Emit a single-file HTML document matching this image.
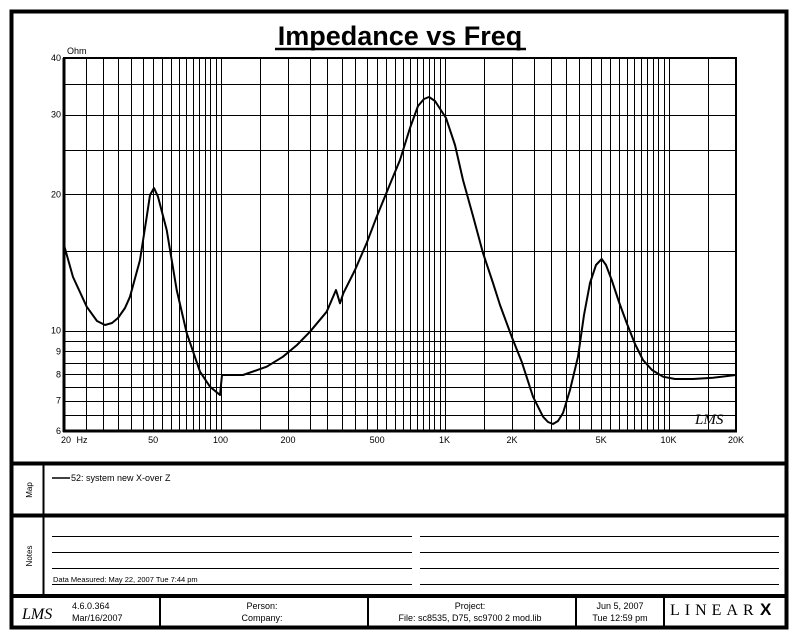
<!DOCTYPE html>
<html><head><meta charset="utf-8"><style>
html,body{margin:0;padding:0;background:#fff;}
svg{display:block;font-family:"Liberation Sans",sans-serif;}
</style></head><body>
<svg id="s" width="800" height="640" viewBox="0 0 800 640" xmlns="http://www.w3.org/2000/svg">
<rect x="11.5" y="11.5" width="775" height="616" fill="none" stroke="#000" stroke-width="4"/>
<text x="400" y="45" font-size="27" font-weight="bold" text-anchor="middle">Impedance vs Freq</text>
<line x1="275" y1="49" x2="526" y2="49" stroke="#000" stroke-width="2.5"/>
<g id="grid" stroke="#000" stroke-width="1" shape-rendering="crispEdges"></g>
<rect x="64" y="58" width="672" height="373" fill="none" stroke="#000" stroke-width="2"/>
<line x1="64" y1="58" x2="64" y2="432" stroke="#000" stroke-width="3"/>
<line x1="63" y1="431" x2="737" y2="431" stroke="#000" stroke-width="3"/>
<text x="67" y="54" font-size="9">Ohm</text>
<g font-size="9" text-anchor="end" id="yl"></g>
<g font-size="9" text-anchor="middle" id="xl"></g>
<polyline id="curve" fill="none" stroke="#000" stroke-width="2" stroke-linejoin="round" points=""/>
<text x="695" y="424" font-size="15" font-style="italic" font-family="Liberation Serif,serif">LMS</text>
<line x1="11" y1="463.5" x2="788" y2="463.5" stroke="#000" stroke-width="4"/>
<line x1="11" y1="515.5" x2="788" y2="515.5" stroke="#000" stroke-width="4"/>
<line x1="11" y1="596" x2="788" y2="596" stroke="#000" stroke-width="4"/>
<line x1="43.5" y1="463" x2="43.5" y2="596" stroke="#000" stroke-width="2"/>
<text transform="translate(32,490) rotate(-90)" font-size="8" text-anchor="middle">Map</text>
<text transform="translate(32,556) rotate(-90)" font-size="8" text-anchor="middle">Notes</text>
<line x1="52" y1="478" x2="70" y2="478" stroke="#000" stroke-width="1.5"/>
<text x="71" y="481" font-size="9">52: system new X-over Z</text>
<g stroke="#000" stroke-width="1">
<line x1="52" y1="536.5" x2="412" y2="536.5"/><line x1="420" y1="536.5" x2="779" y2="536.5"/>
<line x1="52" y1="552.5" x2="412" y2="552.5"/><line x1="420" y1="552.5" x2="779" y2="552.5"/>
<line x1="52" y1="568.5" x2="412" y2="568.5"/><line x1="420" y1="568.5" x2="779" y2="568.5"/>
<line x1="52" y1="584.5" x2="412" y2="584.5"/><line x1="420" y1="584.5" x2="779" y2="584.5"/>
</g>
<text x="53" y="582" font-size="7.5">Data Measured: May 22, 2007  Tue  7:44 pm</text>
<g stroke="#000" stroke-width="2">
<line x1="160" y1="596" x2="160" y2="628"/>
<line x1="368" y1="596" x2="368" y2="628"/>
<line x1="576" y1="596" x2="576" y2="628"/>
<line x1="664" y1="596" x2="664" y2="628"/>
</g>
<text x="22" y="619" font-size="16" font-style="italic" font-family="Liberation Serif,serif">LMS</text>
<text x="72" y="609" font-size="9">4.6.0.364</text>
<text x="72" y="621" font-size="9">Mar/16/2007</text>
<text x="262" y="609" font-size="9" text-anchor="middle">Person:</text>
<text x="262" y="621" font-size="9" text-anchor="middle">Company:</text>
<text x="470" y="609" font-size="9" text-anchor="middle">Project:</text>
<text x="470" y="621" font-size="9" text-anchor="middle">File: sc8535, D75, sc9700 2 mod.lib</text>
<text x="620" y="609" font-size="9" text-anchor="middle">Jun  5, 2007</text>
<text x="620" y="621" font-size="9" text-anchor="middle">Tue 12:59 pm</text>
<text x="670" y="615" font-size="16" font-family="Liberation Serif,serif" letter-spacing="5">LINEAR</text>
<text x="760" y="615" font-size="17" font-weight="bold">X</text>
</svg>
<script>
var NS="http://www.w3.org/2000/svg";
function fx(f){return 64+224*Math.log10(f/20);}
function fy(v){return 431-373*Math.log10(v/6)/Math.log10(40/6);}
var g=document.getElementById('grid');
function ln(a,b,c,d){var l=document.createElementNS(NS,'line');l.setAttribute('x1',a);l.setAttribute('y1',b);l.setAttribute('x2',c);l.setAttribute('y2',d);g.appendChild(l);}
var xs=[];
for(var f=25;f<100;f+=5)xs.push(f);
for(f=100;f<1000;f+=50)xs.push(f);
for(f=1000;f<10000;f+=500)xs.push(f);
xs.push(10000,15000);
xs.forEach(function(f){var x=Math.round(fx(f))+0.5;ln(x,58,x,431);});
var ys=[];
for(var v=6.5;v<10;v+=0.5)ys.push(v);
for(v=10;v<40;v+=5)ys.push(v);
ys.forEach(function(v){var y=Math.round(fy(v))+0.5;ln(64,y,736,y);});
function tx(parent,x,y,s){var t=document.createElementNS(NS,'text');t.setAttribute('x',x);t.setAttribute('y',y);t.textContent=s;document.getElementById(parent).appendChild(t);}
[[40,'40'],[30,'30'],[20,'20'],[10,'10'],[9,'9'],[8,'8'],[7,'7'],[6,'6']].forEach(function(p){tx('yl',61,fy(p[0])+3,p[1]);});
[[50,'50'],[100,'100'],[200,'200'],[500,'500'],[1000,'1K'],[2000,'2K'],[5000,'5K'],[10000,'10K'],[20000,'20K']].forEach(function(p){tx('xl',fx(p[0]),443,p[1]);});
tx('xl',66,443,'20');tx('xl',82,443,'Hz');
var pts=[[64,245],[73,277],[86.7,306.7],[97,321],[105,325],[112,323],[118,318],[125,308],[130,296.7],[140,260],[147,215],[150,195],[154,188],[158,196.7],[166.7,230],[176.7,290],[186.7,333],[200,371.7],[210,386.7],[220,395],[222,375],[243,375],[266.7,366.7],[283,356.7],[297,345],[310,331.7],[326.7,311.7],[336,290],[340,303.3],[343.3,293.3],[355,270],[366.7,243],[376.7,216.7],[391.7,180],[400,160],[410,128],[418,106],[424,99],[429,97],[435,101],[446,118],[455,145],[463,180],[473,216],[483,253],[493,283],[500,305],[511.7,336.7],[521.7,361.7],[533,396.7],[543,416.7],[548,422],[553,424],[558,421],[563,413],[570,390],[578,356.7],[584,315],[590,283],[596,265],[601.7,259],[606,265],[611.7,280],[619,302],[626.7,323],[635,344],[643,360],[652,370],[663,376.7],[675,379],[693,379],[713,377.7],[736,375]];
document.getElementById('curve').setAttribute('points',pts.map(function(p){return p.join(',');}).join(' '));
</script>
</body></html>
